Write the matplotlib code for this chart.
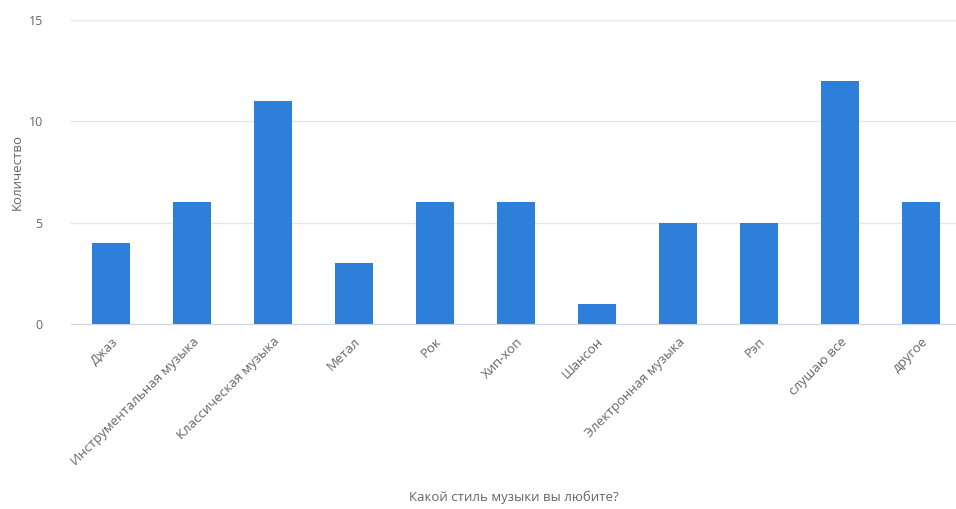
import matplotlib.pyplot as plt

plt.rcParams['font.family'] = ['Open Sans', 'DejaVu Sans']

categories = ['Джаз', 'Инструментальная музыка', 'Классическая музыка', 'Метал',
              'Рок', 'Хип-хоп', 'Шансон', 'Электронная музыка', 'Рэп',
              'слушаю все', 'другое']
counts = [4, 6, 11, 3, 6, 6, 1, 5, 5, 12, 6]
yticks = [0, 5, 10, 15]

W, H = 956, 509
fig = plt.figure(figsize=(W / 100, H / 100), dpi=100)
ax = fig.add_axes([70.5 / W, (H - 324) / H, (956 - 70.5) / W, 304 / H])

x = range(len(categories))
ax.bar(x, counts, width=0.47, color='#2e7fd9', zorder=3)

ax.set_ylim(0, 15)
ax.set_xlim(-0.5, (956 - 70.5) / 81 - 0.5)
ax.set_yticks(yticks)
ax.set_xticks(list(x))
ax.set_xticklabels(categories, rotation=45, ha='right', rotation_mode='anchor',
                   fontsize=9.5, color='#666666')
ax.tick_params(axis='y', labelsize=9, labelcolor='#666666', length=0, pad=20)
ax.tick_params(axis='x', length=0, pad=8)

ax.grid(axis='y', color='#e6e6e6', linewidth=1, zorder=0)
for s in ['top', 'right', 'left']:
    ax.spines[s].set_visible(False)
ax.spines['bottom'].set_color('#ccd6eb')
ax.spines['bottom'].set_zorder(4)

fig.text(17 / W, 1 - 172 / H, 'Количество', rotation=90, ha='center',
         va='center', fontsize=9.5, color='#666666')
fig.text(514 / W, 1 - 497 / H, 'Какой стиль музыки вы любите?', ha='center',
         va='center', fontsize=9.5, color='#666666')

fig.savefig('out.png', dpi=100)
